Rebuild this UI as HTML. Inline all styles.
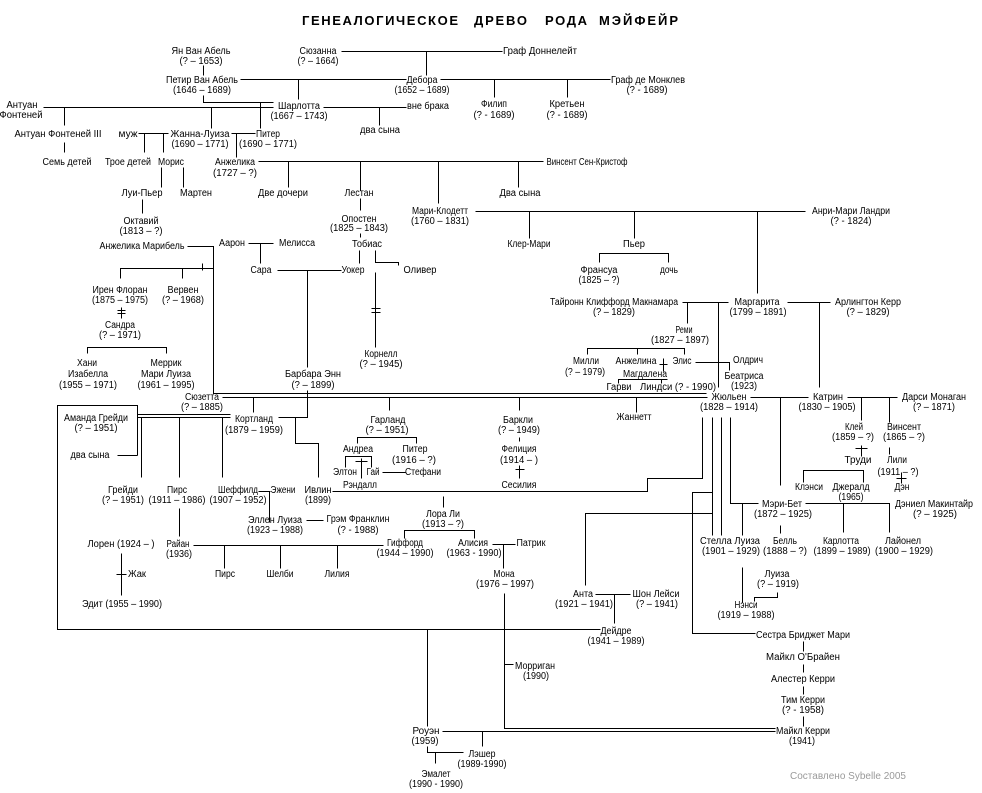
<!DOCTYPE html>
<html><head><meta charset="utf-8"><style>
html,body{margin:0;padding:0;background:#fff}
svg{display:block}
text{font-family:"Liberation Sans","DejaVu Sans",sans-serif;font-size:10px;text-anchor:middle;fill:#000}
.t{font-size:13px;font-weight:bold;text-anchor:start}
.s{fill:#9a9a9a}
</style></head><body>
<svg width="982" height="793" viewBox="0 0 982 793" xmlns="http://www.w3.org/2000/svg">
<rect width="982" height="793" fill="#fff"/>
<g transform="translate(.5,.5)">
<path fill="none" stroke="#000" stroke-width="1" shape-rendering="crispEdges" d="
M203 65V75
M341 51H502 M426 51V75
M240 79H406 M298 79V99
M203 95V102H273
M43 107H273
M64 107V125
M211 107V128
M260 102V128
M323 107H406 M379 107V125
M440 79H610 M494 79V97 M567 79V97
M138 133H168 M144 133V152 M163 133V152
M231 133H255 M236 133V157
M64 142V152
M161 167V187 M183 167V187
M142 199V213
M258 161H543 M288 161V187 M360 161V190 M438 161V203 M518 161V187
M360 198V210
M360 233V237
M475 211H805 M529 211V238 M634 211V238 M757 211V293
M599 262V253H668V262
M359 250V263
M375 250V262H398V265
M375 272V347 M371 308H380 M371 312H380
M187 246H213V393H706
M120 278V268H213 M182 268V278 M202 263V270
M248 243H273 M260 243V263
M277 270H341 M307 270V367
M121 307V318 M117 310H125 M117 313H125
M87 353V347H166V353
M222 397H707
M307 390V417H278 M295 417V443H318V477
M253 397V412
M137 414H230 M137 417H230
M137 455V405H57V629H600
M117 455H137
M141 417V477 M179 417V477 M222 417V477
M258 491H270 M269 491V522
M306 520H323
M179 508V536
M193 545H383 M224 545V568 M280 545V568 M337 545V568
M121 553V595 M116 574H126
M332 491H647V478H702V417
M443 496V507
M404 538V530H474V538
M492 544H515 M503 544V568
M504 593V728H775 M504 664H513
M389 397V410 M357 443V437H416V443
M345 467V456H371V467 M361 458V478 M355 461H367
M382 472H405
M519 397V410 M519 437V441 M519 465V478 M515 469H524
M636 397V412
M682 302H728 M687 302V323 M718 302V387 M787 302H830 M819 302V387
M587 354V348H684V354 M637 348V354
M663 358V371 M659 364H667
M695 362H729V370
M618 383V379H667 M661 379V383
M750 397H808 M780 397V485
M847 397H897 M861 397V420 M889 397V422
M861 445V456 M855 448H867
M889 447V454
M901 472V483 M896 478H906
M803 482V470H863V482
M712 417V535 M721 417V535 M730 417V503H758
M712 492H692V633H755
M712 513H585V585
M805 503H889V532 M843 503V532 M780 525V533 M742 503V535
M742 567V602
M777 592V597H754V601
M595 594H630 M614 594V623
M427 629V726
M442 731H775 M482 731V746
M427 746V752H463 M435 752V763
M803 641V651 M803 664V672 M803 686V694 M803 716V726
"/>
</g>

<text class="t" x="302" y="25" textLength="156" lengthAdjust="spacing">ГЕНЕАЛОГИЧЕСКОЕ</text>
<text class="t" x="474" y="25" textLength="53" lengthAdjust="spacing">ДРЕВО</text>
<text class="t" x="545" y="25" textLength="42" lengthAdjust="spacing">РОДА</text>
<text class="t" x="599" y="25" textLength="79" lengthAdjust="spacing">МЭЙФЕЙР</text>

<text x="201" y="54" textLength="59" lengthAdjust="spacingAndGlyphs">Ян Ван Абель</text>
<text x="201" y="64" textLength="43" lengthAdjust="spacingAndGlyphs">(? – 1653)</text>
<text x="318" y="54" textLength="37" lengthAdjust="spacingAndGlyphs">Сюзанна</text>
<text x="318" y="64" textLength="41" lengthAdjust="spacingAndGlyphs">(? – 1664)</text>
<text x="540" y="54" textLength="74" lengthAdjust="spacingAndGlyphs">Граф Доннелейт</text>
<text x="202" y="83" textLength="72" lengthAdjust="spacingAndGlyphs">Петир Ван Абель</text>
<text x="202" y="93" textLength="58" lengthAdjust="spacingAndGlyphs">(1646 – 1689)</text>
<text x="422" y="83" textLength="31" lengthAdjust="spacingAndGlyphs">Дебора</text>
<text x="422" y="93" textLength="55" lengthAdjust="spacingAndGlyphs">(1652 – 1689)</text>
<text x="648" y="83" textLength="74" lengthAdjust="spacingAndGlyphs">Граф де Монклев</text>
<text x="647" y="93" textLength="41" lengthAdjust="spacingAndGlyphs">(? - 1689)</text>
<text x="22" y="108" textLength="31" lengthAdjust="spacingAndGlyphs">Антуан</text>
<text x="21" y="118" textLength="43" lengthAdjust="spacingAndGlyphs">Фонтеней</text>
<text x="299" y="109" textLength="42" lengthAdjust="spacingAndGlyphs">Шарлотта</text>
<text x="299" y="119" textLength="57" lengthAdjust="spacingAndGlyphs">(1667 – 1743)</text>
<text x="428" y="109" textLength="42" lengthAdjust="spacingAndGlyphs">вне брака</text>
<text x="494" y="107" textLength="26" lengthAdjust="spacingAndGlyphs">Филип</text>
<text x="494" y="118" textLength="41" lengthAdjust="spacingAndGlyphs">(? - 1689)</text>
<text x="567" y="107" textLength="35" lengthAdjust="spacingAndGlyphs">Кретьен</text>
<text x="567" y="118" textLength="41" lengthAdjust="spacingAndGlyphs">(? - 1689)</text>
<text x="380" y="133" textLength="40" lengthAdjust="spacingAndGlyphs">два сына</text>
<text x="58" y="137" textLength="87" lengthAdjust="spacingAndGlyphs">Антуан Фонтеней III</text>
<text x="128" y="137" textLength="19" lengthAdjust="spacingAndGlyphs">муж</text>
<text x="200" y="137" textLength="59" lengthAdjust="spacingAndGlyphs">Жанна-Луиза</text>
<text x="200" y="147" textLength="57" lengthAdjust="spacingAndGlyphs">(1690 – 1771)</text>
<text x="268" y="137" textLength="24" lengthAdjust="spacingAndGlyphs">Питер</text>
<text x="268" y="147" textLength="58" lengthAdjust="spacingAndGlyphs">(1690 – 1771)</text>
<text x="67" y="165" textLength="49" lengthAdjust="spacingAndGlyphs">Семь детей</text>
<text x="128" y="165" textLength="46" lengthAdjust="spacingAndGlyphs">Трое детей</text>
<text x="171" y="165" textLength="26" lengthAdjust="spacingAndGlyphs">Морис</text>
<text x="235" y="165" textLength="40" lengthAdjust="spacingAndGlyphs">Анжелика</text>
<text x="235" y="176" textLength="44" lengthAdjust="spacingAndGlyphs">(1727 – ?)</text>
<text x="587" y="165" textLength="81" lengthAdjust="spacingAndGlyphs">Винсент Сен-Кристоф</text>
<text x="142" y="196" textLength="41" lengthAdjust="spacingAndGlyphs">Луи-Пьер</text>
<text x="196" y="196" textLength="32" lengthAdjust="spacingAndGlyphs">Мартен</text>
<text x="283" y="196" textLength="50" lengthAdjust="spacingAndGlyphs">Две дочери</text>
<text x="359" y="196" textLength="29" lengthAdjust="spacingAndGlyphs">Лестан</text>
<text x="520" y="196" textLength="41" lengthAdjust="spacingAndGlyphs">Два сына</text>
<text x="359" y="222" textLength="35" lengthAdjust="spacingAndGlyphs">Опостен</text>
<text x="359" y="231" textLength="58" lengthAdjust="spacingAndGlyphs">(1825 – 1843)</text>
<text x="440" y="214" textLength="56" lengthAdjust="spacingAndGlyphs">Мари-Клодетт</text>
<text x="440" y="224" textLength="58" lengthAdjust="spacingAndGlyphs">(1760 – 1831)</text>
<text x="851" y="214" textLength="78" lengthAdjust="spacingAndGlyphs">Анри-Мари Ландри</text>
<text x="851" y="224" textLength="41" lengthAdjust="spacingAndGlyphs">(? - 1824)</text>
<text x="141" y="224" textLength="35" lengthAdjust="spacingAndGlyphs">Октавий</text>
<text x="141" y="234" textLength="43" lengthAdjust="spacingAndGlyphs">(1813 – ?)</text>
<text x="367" y="247" textLength="30" lengthAdjust="spacingAndGlyphs">Тобиас</text>
<text x="529" y="247" textLength="43" lengthAdjust="spacingAndGlyphs">Клер-Мари</text>
<text x="634" y="247" textLength="22" lengthAdjust="spacingAndGlyphs">Пьер</text>
<text x="142" y="249" textLength="85" lengthAdjust="spacingAndGlyphs">Анжелика Марибель</text>
<text x="232" y="246" textLength="26" lengthAdjust="spacingAndGlyphs">Аарон</text>
<text x="297" y="246" textLength="36" lengthAdjust="spacingAndGlyphs">Мелисса</text>
<text x="261" y="273" textLength="21" lengthAdjust="spacingAndGlyphs">Сара</text>
<text x="353" y="273" textLength="23" lengthAdjust="spacingAndGlyphs">Уокер</text>
<text x="420" y="273" textLength="33" lengthAdjust="spacingAndGlyphs">Оливер</text>
<text x="599" y="273" textLength="37" lengthAdjust="spacingAndGlyphs">Франсуа</text>
<text x="599" y="283" textLength="41" lengthAdjust="spacingAndGlyphs">(1825 – ?)</text>
<text x="669" y="273" textLength="18" lengthAdjust="spacingAndGlyphs">дочь</text>
<text x="120" y="293" textLength="55" lengthAdjust="spacingAndGlyphs">Ирен Флоран</text>
<text x="120" y="303" textLength="56" lengthAdjust="spacingAndGlyphs">(1875 – 1975)</text>
<text x="183" y="293" textLength="31" lengthAdjust="spacingAndGlyphs">Вервен</text>
<text x="183" y="303" textLength="42" lengthAdjust="spacingAndGlyphs">(? – 1968)</text>
<text x="614" y="305" textLength="128" lengthAdjust="spacingAndGlyphs">Тайронн Клиффорд Макнамара</text>
<text x="614" y="315" textLength="42" lengthAdjust="spacingAndGlyphs">(? – 1829)</text>
<text x="757" y="305" textLength="45" lengthAdjust="spacingAndGlyphs">Маргарита</text>
<text x="758" y="315" textLength="57" lengthAdjust="spacingAndGlyphs">(1799 – 1891)</text>
<text x="868" y="305" textLength="66" lengthAdjust="spacingAndGlyphs">Арлингтон Керр</text>
<text x="868" y="315" textLength="43" lengthAdjust="spacingAndGlyphs">(? – 1829)</text>
<text x="120" y="328" textLength="30" lengthAdjust="spacingAndGlyphs">Сандра</text>
<text x="120" y="338" textLength="42" lengthAdjust="spacingAndGlyphs">(? – 1971)</text>
<text x="684" y="333" textLength="17" lengthAdjust="spacingAndGlyphs">Реми</text>
<text x="680" y="343" textLength="58" lengthAdjust="spacingAndGlyphs">(1827 – 1897)</text>
<text x="381" y="357" textLength="33" lengthAdjust="spacingAndGlyphs">Корнелл</text>
<text x="381" y="367" textLength="43" lengthAdjust="spacingAndGlyphs">(? – 1945)</text>
<text x="586" y="364" textLength="26" lengthAdjust="spacingAndGlyphs">Милли</text>
<text x="585" y="375" textLength="40" lengthAdjust="spacingAndGlyphs">(? – 1979)</text>
<text x="636" y="364" textLength="41" lengthAdjust="spacingAndGlyphs">Анжелина</text>
<text x="682" y="364" textLength="19" lengthAdjust="spacingAndGlyphs">Элис</text>
<text x="748" y="363" textLength="30" lengthAdjust="spacingAndGlyphs">Олдрич</text>
<text x="87" y="366" textLength="20" lengthAdjust="spacingAndGlyphs">Хани</text>
<text x="88" y="377" textLength="40" lengthAdjust="spacingAndGlyphs">Изабелла</text>
<text x="88" y="388" textLength="58" lengthAdjust="spacingAndGlyphs">(1955 – 1971)</text>
<text x="166" y="366" textLength="31" lengthAdjust="spacingAndGlyphs">Меррик</text>
<text x="166" y="377" textLength="50" lengthAdjust="spacingAndGlyphs">Мари Луиза</text>
<text x="166" y="388" textLength="57" lengthAdjust="spacingAndGlyphs">(1961 – 1995)</text>
<text x="313" y="377" textLength="56" lengthAdjust="spacingAndGlyphs">Барбара Энн</text>
<text x="313" y="388" textLength="43" lengthAdjust="spacingAndGlyphs">(? – 1899)</text>
<text x="645" y="377" textLength="44" lengthAdjust="spacingAndGlyphs">Магдалена</text>
<text x="744" y="379" textLength="39" lengthAdjust="spacingAndGlyphs">Беатриса</text>
<text x="744" y="389" textLength="26" lengthAdjust="spacingAndGlyphs">(1923)</text>
<text x="619" y="390" textLength="25" lengthAdjust="spacingAndGlyphs">Гарви</text>
<text x="678" y="390" textLength="76" lengthAdjust="spacingAndGlyphs">Линдси (? - 1990)</text>
<text x="202" y="400" textLength="34" lengthAdjust="spacingAndGlyphs">Сюзетта</text>
<text x="202" y="410" textLength="42" lengthAdjust="spacingAndGlyphs">(? – 1885)</text>
<text x="729" y="400" textLength="35" lengthAdjust="spacingAndGlyphs">Жюльен</text>
<text x="729" y="410" textLength="58" lengthAdjust="spacingAndGlyphs">(1828 – 1914)</text>
<text x="828" y="400" textLength="30" lengthAdjust="spacingAndGlyphs">Катрин</text>
<text x="827" y="410" textLength="57" lengthAdjust="spacingAndGlyphs">(1830 – 1905)</text>
<text x="934" y="400" textLength="64" lengthAdjust="spacingAndGlyphs">Дарси Монаган</text>
<text x="934" y="410" textLength="42" lengthAdjust="spacingAndGlyphs">(? – 1871)</text>
<text x="634" y="420" textLength="35" lengthAdjust="spacingAndGlyphs">Жаннетт</text>
<text x="96" y="421" textLength="64" lengthAdjust="spacingAndGlyphs">Аманда Грейди</text>
<text x="96" y="431" textLength="43" lengthAdjust="spacingAndGlyphs">(? – 1951)</text>
<text x="254" y="422" textLength="38" lengthAdjust="spacingAndGlyphs">Кортланд</text>
<text x="254" y="433" textLength="58" lengthAdjust="spacingAndGlyphs">(1879 – 1959)</text>
<text x="388" y="423" textLength="35" lengthAdjust="spacingAndGlyphs">Гарланд</text>
<text x="387" y="433" textLength="43" lengthAdjust="spacingAndGlyphs">(? – 1951)</text>
<text x="518" y="423" textLength="30" lengthAdjust="spacingAndGlyphs">Баркли</text>
<text x="519" y="433" textLength="42" lengthAdjust="spacingAndGlyphs">(? – 1949)</text>
<text x="854" y="430" textLength="18" lengthAdjust="spacingAndGlyphs">Клей</text>
<text x="853" y="440" textLength="42" lengthAdjust="spacingAndGlyphs">(1859 – ?)</text>
<text x="904" y="430" textLength="34" lengthAdjust="spacingAndGlyphs">Винсент</text>
<text x="904" y="440" textLength="42" lengthAdjust="spacingAndGlyphs">(1865 – ?)</text>
<text x="358" y="452" textLength="30" lengthAdjust="spacingAndGlyphs">Андреа</text>
<text x="415" y="452" textLength="25" lengthAdjust="spacingAndGlyphs">Питер</text>
<text x="414" y="463" textLength="44" lengthAdjust="spacingAndGlyphs">(1916 – ?)</text>
<text x="519" y="452" textLength="35" lengthAdjust="spacingAndGlyphs">Фелиция</text>
<text x="519" y="463" textLength="38" lengthAdjust="spacingAndGlyphs">(1914 – )</text>
<text x="90" y="458" textLength="39" lengthAdjust="spacingAndGlyphs">два сына</text>
<text x="858" y="463" textLength="27" lengthAdjust="spacingAndGlyphs">Труди</text>
<text x="897" y="463" textLength="20" lengthAdjust="spacingAndGlyphs">Лили</text>
<text x="898" y="475" textLength="41" lengthAdjust="spacingAndGlyphs">(1911 – ?)</text>
<text x="345" y="475" textLength="24" lengthAdjust="spacingAndGlyphs">Элтон</text>
<text x="373" y="475" textLength="13" lengthAdjust="spacingAndGlyphs">Гай</text>
<text x="423" y="475" textLength="36" lengthAdjust="spacingAndGlyphs">Стефани</text>
<text x="360" y="488" textLength="34" lengthAdjust="spacingAndGlyphs">Рэндалл</text>
<text x="519" y="488" textLength="35" lengthAdjust="spacingAndGlyphs">Сесилия</text>
<text x="809" y="490" textLength="28" lengthAdjust="spacingAndGlyphs">Клэнси</text>
<text x="851" y="490" textLength="37" lengthAdjust="spacingAndGlyphs">Джералд</text>
<text x="851" y="500" textLength="25" lengthAdjust="spacingAndGlyphs">(1965)</text>
<text x="902" y="490" textLength="15" lengthAdjust="spacingAndGlyphs">Дэн</text>
<text x="123" y="493" textLength="30" lengthAdjust="spacingAndGlyphs">Грейди</text>
<text x="123" y="503" textLength="42" lengthAdjust="spacingAndGlyphs">(? – 1951)</text>
<text x="177" y="493" textLength="20" lengthAdjust="spacingAndGlyphs">Пирс</text>
<text x="177" y="503" textLength="57" lengthAdjust="spacingAndGlyphs">(1911 – 1986)</text>
<text x="238" y="493" textLength="40" lengthAdjust="spacingAndGlyphs">Шеффилд</text>
<text x="238" y="503" textLength="57" lengthAdjust="spacingAndGlyphs">(1907 – 1952)</text>
<text x="283" y="493" textLength="25" lengthAdjust="spacingAndGlyphs">Эжени</text>
<text x="318" y="493" textLength="27" lengthAdjust="spacingAndGlyphs">Ивлин</text>
<text x="318" y="503" textLength="26" lengthAdjust="spacingAndGlyphs">(1899)</text>
<text x="782" y="507" textLength="40" lengthAdjust="spacingAndGlyphs">Мэри-Бет</text>
<text x="783" y="517" textLength="58" lengthAdjust="spacingAndGlyphs">(1872 – 1925)</text>
<text x="934" y="507" textLength="78" lengthAdjust="spacingAndGlyphs">Дэниел Макинтайр</text>
<text x="935" y="517" textLength="44" lengthAdjust="spacingAndGlyphs">(? – 1925)</text>
<text x="443" y="517" textLength="34" lengthAdjust="spacingAndGlyphs">Лора Ли</text>
<text x="443" y="527" textLength="42" lengthAdjust="spacingAndGlyphs">(1913 – ?)</text>
<text x="275" y="523" textLength="54" lengthAdjust="spacingAndGlyphs">Эллен Луиза</text>
<text x="275" y="533" textLength="56" lengthAdjust="spacingAndGlyphs">(1923 – 1988)</text>
<text x="358" y="522" textLength="63" lengthAdjust="spacingAndGlyphs">Грэм Франклин</text>
<text x="358" y="533" textLength="41" lengthAdjust="spacingAndGlyphs">(? - 1988)</text>
<text x="730" y="544" textLength="60" lengthAdjust="spacingAndGlyphs">Стелла Луиза</text>
<text x="731" y="554" textLength="58" lengthAdjust="spacingAndGlyphs">(1901 – 1929)</text>
<text x="785" y="544" textLength="24" lengthAdjust="spacingAndGlyphs">Белль</text>
<text x="785" y="554" textLength="44" lengthAdjust="spacingAndGlyphs">(1888 – ?)</text>
<text x="841" y="544" textLength="36" lengthAdjust="spacingAndGlyphs">Карлотта</text>
<text x="842" y="554" textLength="57" lengthAdjust="spacingAndGlyphs">(1899 – 1989)</text>
<text x="903" y="544" textLength="36" lengthAdjust="spacingAndGlyphs">Лайонел</text>
<text x="904" y="554" textLength="58" lengthAdjust="spacingAndGlyphs">(1900 – 1929)</text>
<text x="405" y="546" textLength="36" lengthAdjust="spacingAndGlyphs">Гиффорд</text>
<text x="405" y="556" textLength="57" lengthAdjust="spacingAndGlyphs">(1944 – 1990)</text>
<text x="473" y="546" textLength="30" lengthAdjust="spacingAndGlyphs">Алисия</text>
<text x="474" y="556" textLength="55" lengthAdjust="spacingAndGlyphs">(1963 - 1990)</text>
<text x="531" y="546" textLength="29" lengthAdjust="spacingAndGlyphs">Патрик</text>
<text x="121" y="547" textLength="67" lengthAdjust="spacingAndGlyphs">Лорен (1924 – )</text>
<text x="178" y="547" textLength="23" lengthAdjust="spacingAndGlyphs">Райан</text>
<text x="179" y="557" textLength="26" lengthAdjust="spacingAndGlyphs">(1936)</text>
<text x="225" y="577" textLength="20" lengthAdjust="spacingAndGlyphs">Пирс</text>
<text x="280" y="577" textLength="27" lengthAdjust="spacingAndGlyphs">Шелби</text>
<text x="337" y="577" textLength="25" lengthAdjust="spacingAndGlyphs">Лилия</text>
<text x="137" y="577" textLength="18" lengthAdjust="spacingAndGlyphs">Жак</text>
<text x="504" y="577" textLength="21" lengthAdjust="spacingAndGlyphs">Мона</text>
<text x="505" y="587" textLength="58" lengthAdjust="spacingAndGlyphs">(1976 – 1997)</text>
<text x="777" y="577" textLength="25" lengthAdjust="spacingAndGlyphs">Луиза</text>
<text x="778" y="587" textLength="42" lengthAdjust="spacingAndGlyphs">(? – 1919)</text>
<text x="583" y="597" textLength="20" lengthAdjust="spacingAndGlyphs">Анта</text>
<text x="584" y="607" textLength="58" lengthAdjust="spacingAndGlyphs">(1921 – 1941)</text>
<text x="656" y="597" textLength="47" lengthAdjust="spacingAndGlyphs">Шон Лейси</text>
<text x="657" y="607" textLength="42" lengthAdjust="spacingAndGlyphs">(? – 1941)</text>
<text x="122" y="607" textLength="80" lengthAdjust="spacingAndGlyphs">Эдит (1955 – 1990)</text>
<text x="746" y="608" textLength="23" lengthAdjust="spacingAndGlyphs">Нэнси</text>
<text x="746" y="618" textLength="57" lengthAdjust="spacingAndGlyphs">(1919 – 1988)</text>
<text x="616" y="634" textLength="31" lengthAdjust="spacingAndGlyphs">Дейдре</text>
<text x="616" y="644" textLength="57" lengthAdjust="spacingAndGlyphs">(1941 – 1989)</text>
<text x="803" y="638" textLength="94" lengthAdjust="spacingAndGlyphs">Сестра Бриджет Мари</text>
<text x="803" y="660" textLength="74" lengthAdjust="spacingAndGlyphs">Майкл О'Брайен</text>
<text x="535" y="669" textLength="40" lengthAdjust="spacingAndGlyphs">Морриган</text>
<text x="536" y="679" textLength="26" lengthAdjust="spacingAndGlyphs">(1990)</text>
<text x="803" y="682" textLength="64" lengthAdjust="spacingAndGlyphs">Алестер Керри</text>
<text x="803" y="703" textLength="44" lengthAdjust="spacingAndGlyphs">Тим Керри</text>
<text x="803" y="713" textLength="42" lengthAdjust="spacingAndGlyphs">(? - 1958)</text>
<text x="426" y="734" textLength="27" lengthAdjust="spacingAndGlyphs">Роуэн</text>
<text x="425" y="744" textLength="27" lengthAdjust="spacingAndGlyphs">(1959)</text>
<text x="803" y="734" textLength="54" lengthAdjust="spacingAndGlyphs">Майкл Керри</text>
<text x="802" y="744" textLength="26" lengthAdjust="spacingAndGlyphs">(1941)</text>
<text x="482" y="757" textLength="27" lengthAdjust="spacingAndGlyphs">Лэшер</text>
<text x="482" y="767" textLength="49" lengthAdjust="spacingAndGlyphs">(1989-1990)</text>
<text x="436" y="777" textLength="29" lengthAdjust="spacingAndGlyphs">Эмалет</text>
<text x="436" y="787" textLength="54" lengthAdjust="spacingAndGlyphs">(1990 - 1990)</text>
<text class="s" x="848" y="779" textLength="116" lengthAdjust="spacingAndGlyphs">Составлено Sybelle 2005</text>
</svg>
</body></html>
